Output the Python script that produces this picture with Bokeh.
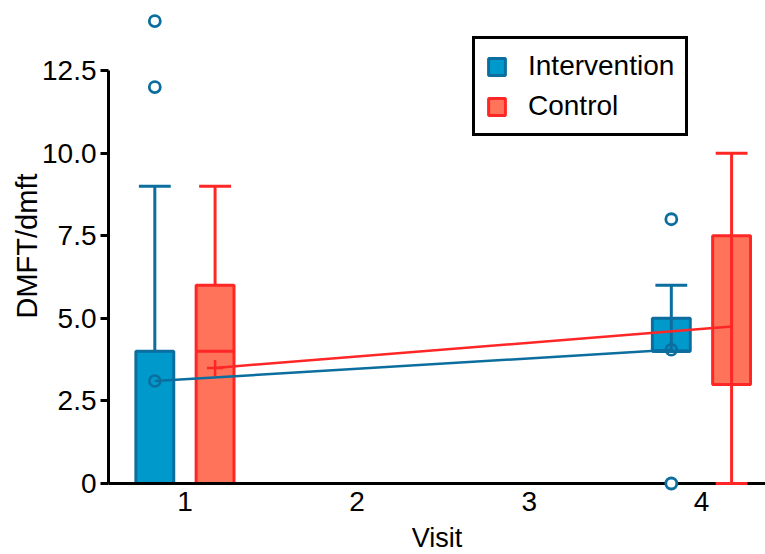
from bokeh.plotting import figure
from bokeh.models import Range1d, FixedTicker, Legend, LegendItem, ColumnDataSource
from bokeh.embed import file_html
from bokeh.resources import INLINE

# ---- data ----
visits = [1, 4]
visit_ticks = [1, 2, 3, 4]
y_ticks = [0, 2.5, 5.0, 7.5, 10.0, 12.5]

int_low = [0, 4]
int_q1 = [0, 4]
int_med = [0, 4]
int_q3 = [4, 5]
int_high = [9, 6]
int_mean = [3.1, 4.05]
int_out_visit = [1, 1, 4, 4]
int_out_vals = [12, 14, 8, 0]

ctl_low = [0, 0]
ctl_q1 = [0, 3]
ctl_med = [4, 3]
ctl_q3 = [6, 7.5]
ctl_high = [9, 10]
ctl_mean = [3.5, 4.75]

# ---- styling ----
FONT = "Liberation Sans"
BLUE_FILL = "#0099cc"
BLUE_LINE = "#0b6e9e"
RED_FILL = "#ff735a"
RED_LINE = "#ff2626"
OFF = 0.175
BOX_W = 0.22
CAP_W = 0.185

p = figure(width=765, height=554, frame_width=657, frame_height=475,
           x_range=Range1d(0.556, 4.372), y_range=Range1d(0, 14.38),
           output_backend="svg", toolbar_location=None,
           min_border_left=108, min_border_right=0, min_border_top=8, min_border_bottom=71)
p.grid.visible = False
p.outline_line_color = None

def draw_group(low, q1, med, q3, high, offset, fill, line):
    xs = [v + offset for v in visits]
    data = dict(x=xs, low=low, q1=q1, med=med, q3=q3, high=high,
                cl=[x - CAP_W / 2 for x in xs], cr=[x + CAP_W / 2 for x in xs],
                bl=[x - BOX_W / 2 for x in xs], br=[x + BOX_W / 2 for x in xs])
    src = ColumnDataSource(data)
    s1 = ColumnDataSource({k: v[:1] for k, v in data.items()})
    s2 = ColumnDataSource({k: v[1:] for k, v in data.items()})
    p.segment(x0="x", y0="q3", x1="x", y1="high", source=s1, line_color=line, line_width=3)
    p.segment(x0="x", y0="low", x1="x", y1="q1", source=s1, line_color=line, line_width=3)
    r = p.quad(left="bl", right="br", bottom="q1", top="q3", source=src,
               fill_color=fill, line_color=line, line_width=3)
    p.segment(x0="bl", y0="med", x1="br", y1="med", source=src, line_color=line, line_width=3)
    p.segment(x0="x", y0="low", x1="x", y1="high", source=s2, line_color=line, line_width=3)
    p.segment(x0="cl", y0="high", x1="cr", y1="high", source=src, line_color=line, line_width=3)
    p.segment(x0="cl", y0="low", x1="cr", y1="low", source=s2, line_color=line, line_width=3,
              level="overlay")
    return r, xs

r_int, xs_int = draw_group(int_low, int_q1, int_med, int_q3, int_high, -OFF, BLUE_FILL, BLUE_LINE)
r_ctl, xs_ctl = draw_group(ctl_low, ctl_q1, ctl_med, ctl_q3, ctl_high, OFF, RED_FILL, RED_LINE)

# outliers
p.scatter([v - OFF for v in int_out_visit], int_out_vals, marker="circle", size=11,
          fill_color="white", line_color=BLUE_LINE, line_width=2.8, level="overlay")

# mean lines
p.line(xs_int, int_mean, line_color=BLUE_LINE, line_width=2.5)
p.line(xs_ctl, ctl_mean, line_color=RED_LINE, line_width=2.5)
p.scatter(xs_int, int_mean, marker="circle", size=11, fill_color=None,
          line_color=BLUE_LINE, line_width=2.5)
p.scatter(xs_ctl[:1], ctl_mean[:1], marker="cross", size=16,
          line_color=RED_LINE, line_width=2.5)

# axes
for ax in (p.xaxis[0], p.yaxis[0]):
    ax.axis_line_width = 3
    ax.axis_line_color = "black"
    ax.major_tick_line_width = 3
    ax.major_tick_line_color = "black"
    ax.minor_tick_line_color = None
    ax.major_label_text_font = FONT
    ax.major_label_text_font_size = "28px"
    ax.major_label_text_color = "black"
    ax.axis_label_text_font = FONT
    ax.axis_label_text_font_style = "normal"
    ax.axis_label_text_color = "black"

p.xaxis.ticker = FixedTicker(ticks=visit_ticks)
p.xaxis.major_tick_out = 0
p.xaxis.major_tick_in = 0
p.xaxis.major_label_standoff = 8
p.xaxis.axis_label = "Visit"
p.xaxis.axis_label_text_font_size = "27px"
p.xaxis.axis_label_standoff = 9

p.yaxis.ticker = FixedTicker(ticks=y_ticks)
p.yaxis.bounds = (0, 12.5)
p.yaxis.major_tick_out = 8
p.yaxis.major_tick_in = 0
p.yaxis.major_label_standoff = 4
p.yaxis.major_label_overrides = {0: "0", 2.5: "2.5", 5: "5.0", 7.5: "7.5", 10: "10.0", 12.5: "12.5"}
p.yaxis.axis_label = "DMFT/dmft"
p.yaxis.axis_label_text_font_size = "29px"
p.yaxis.axis_label_standoff = -4

legend = Legend(items=[LegendItem(label="Intervention", renderers=[r_int]),
                       LegendItem(label="Control", renderers=[r_ctl])],
                location=(364, 347))
legend.border_line_color = "black"
legend.border_line_alpha = 1
legend.border_line_width = 3
legend.label_text_font = FONT
legend.label_text_font_size = "28px"
legend.label_text_color = "black"
legend.glyph_width = 21
legend.glyph_height = 21
legend.label_standoff = 21
legend.padding = 11
legend.spacing = 8
legend.margin = 0
legend.background_fill_alpha = 1
p.add_layout(legend)

open("out.html", "w").write(file_html(p, INLINE))
